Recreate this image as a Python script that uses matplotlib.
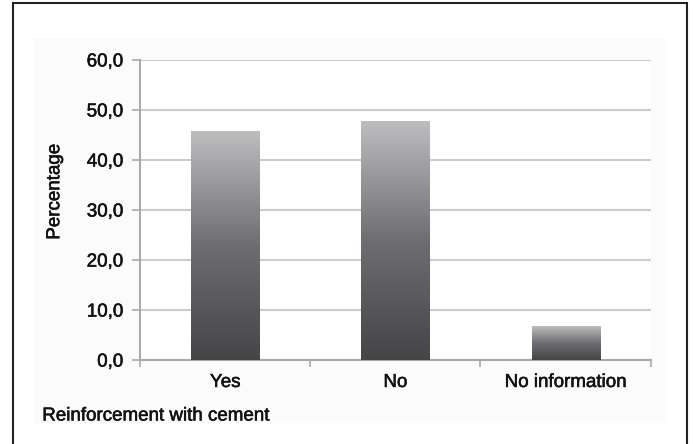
import matplotlib
matplotlib.use("Agg")
import matplotlib.pyplot as plt
import matplotlib.patheffects as pe
from matplotlib.patches import Rectangle
from matplotlib.colors import LinearSegmentedColormap
from matplotlib.ticker import FuncFormatter
import numpy as np

plt.rcParams['font.family'] = ['Liberation Sans', 'DejaVu Sans']

# data
categories = ['Yes', 'No', 'No information']
values = [45.7, 47.7, 6.6]
y_ticks = [0, 10, 20, 30, 40, 50, 60]

fig = plt.figure(figsize=(6.93, 4.44), dpi=100)

# light panel behind the chart and the outer frame
fig.add_artist(Rectangle((0.048, 0.047), 0.912, 0.867, transform=fig.transFigure,
                         facecolor='#fbfbfb', edgecolor='none', zorder=0))
fig.add_artist(Rectangle((0.019, -0.01), 0.972, 1.003, transform=fig.transFigure,
                         fill=False, edgecolor='#222222', lw=1.5, zorder=5))

ax = fig.add_axes([0.202, 0.189, 0.737, 0.676])
ax.set_facecolor('white')

# bars with a vertical gradient (light top, dark bottom)
cmap = LinearSegmentedColormap.from_list('bar', ['#454548', '#6e6e72', '#bdbdbf'])
grad = np.linspace(0, 1, 256).reshape(-1, 1)
width = 0.4
for i, v in enumerate(values):
    ax.imshow(grad, extent=[i - width / 2, i + width / 2, 0, v], origin='lower',
              cmap=cmap, aspect='auto', zorder=3)

ax.set_xlim(-0.5, len(categories) - 0.5)
ax.set_ylim(0, 60)

# grid and axes
ax.set_yticks(y_ticks)
ax.yaxis.set_major_formatter(FuncFormatter(lambda v, p: f'{v:.1f}'.replace('.', ',')))
ax.grid(axis='y', color='#cccccc', lw=1.5, zorder=1)
ax.set_axisbelow(True)
for s in ['top', 'right']:
    ax.spines[s].set_visible(False)
for s in ['left', 'bottom']:
    ax.spines[s].set_color('#aaaaaa')
    ax.spines[s].set_linewidth(1.5)

ax.set_xticks(np.arange(len(categories) + 1) - 0.5)
ax.set_xticklabels([])
ax.set_xticks(np.arange(len(categories)), minor=True)
ax.set_xticklabels(categories, minor=True, fontsize=13.5)
ax.tick_params(axis='x', which='minor', length=0, pad=10)
ax.tick_params(axis='x', which='major', length=5, color='#aaaaaa', width=1.2)
ax.tick_params(axis='y', length=6, color='#aaaaaa', width=1.2, labelsize=13.5, pad=6)

t1 = fig.text(0.079, 0.568, 'Percentage', rotation=90, fontsize=13.5, va='center', ha='center')
t2 = fig.text(0.061, 0.063, 'Reinforcement with cement', fontsize=13.5, va='center', ha='left')

# slightly heavier text, like the scanned original
thick = [pe.withStroke(linewidth=0.4, foreground='#111111')]
for t in ax.get_yticklabels() + ax.get_xticklabels(minor=True) + [t1, t2]:
    t.set_color('#111111')
    t.set_path_effects(thick)

fig.savefig('out.png', dpi=100)
